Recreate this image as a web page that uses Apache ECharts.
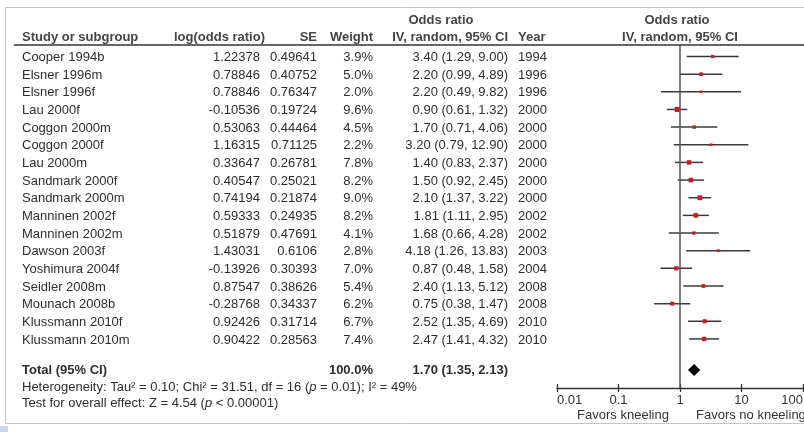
<!DOCTYPE html>
<html>
<head>
<meta charset="utf-8">
<script src="https://cdn.jsdelivr.net/npm/echarts@6/dist/echarts.min.js"></script>
<style>
html,body{margin:0;padding:0;background:#fff;}
#chart{width:804px;height:432px;}
</style>
</head>
<body>
<div id="chart"></div>
<script>
const studies = ["Cooper 1994b","Elsner 1996m","Elsner 1996f","Lau 2000f","Coggon 2000m","Coggon 2000f","Lau 2000m","Sandmark 2000f","Sandmark 2000m","Manninen 2002f","Manninen 2002m","Dawson 2003f","Yoshimura 2004f","Seidler 2008m","Mounach 2008b","Klussmann 2010f","Klussmann 2010m"];
const logOddsRatio = ["1.22378","0.78846","0.78846","-0.10536","0.53063","1.16315","0.33647","0.40547","0.74194","0.59333","0.51879","1.43031","-0.13926","0.87547","-0.28768","0.92426","0.90422"];
const stdErr = ["0.49641","0.40752","0.76347","0.19724","0.44464","0.71125","0.26781","0.25021","0.21874","0.24935","0.47691","0.6106","0.30393","0.38626","0.34337","0.31714","0.28563"];
const weight = [3.9,5.0,2.0,9.6,4.5,2.2,7.8,8.2,9.0,8.2,4.1,2.8,7.0,5.4,6.2,6.7,7.4];
const oddsRatio = [3.40,2.20,2.20,0.90,1.70,3.20,1.40,1.50,2.10,1.81,1.68,4.18,0.87,2.40,0.75,2.52,2.47];
const ciLower = [1.29,0.99,0.49,0.61,0.71,0.79,0.83,0.92,1.37,1.11,0.66,1.26,0.48,1.13,0.38,1.35,1.41];
const ciUpper = [9.00,4.89,9.82,1.32,4.06,12.90,2.37,2.45,3.22,2.95,4.28,13.83,1.58,5.12,1.47,4.69,4.32];
const years = [1994,1996,1996,2000,2000,2000,2000,2000,2000,2002,2002,2003,2004,2008,2008,2010,2010];
const totalOR = [1.70, 1.35, 2.13];
const totalWeight = "100.0%";
const xTickLabels = ["0.01","0.1","1","10","100"];

const TOTAL_ROW = 17.76;
const FONT = '"Liberation Sans", Arial, sans-serif';
const TXT = '#2e2e2e';

const chart = echarts.init(document.getElementById('chart'), null, {renderer:'canvas'});

const studyData = studies.map((s,i)=>[oddsRatio[i], ciLower[i], ciUpper[i], i, weight[i]]);

const xAxisBase = {
  type:'log', logBase:10, min:0.01, max:100, gridIndex:0, position:'bottom',
  splitLine:{show:false}, minorTick:{show:false}
};

const option = {
  animation:false,
  backgroundColor:'#fff',
  grid:{left:557, right:1, top:45, bottom:44, containLabel:false, outerBoundsMode:'none'},
  xAxis:[
    Object.assign({}, xAxisBase, {
      axisLine:{show:true, onZero:false, lineStyle:{color:'#333', width:1.3}},
      axisTick:{show:true, inside:false, length:4, lineStyle:{color:'#333', width:1.3}},
      axisLabel:{show:true, color:'#333', fontFamily:FONT, fontSize:13, margin:6, hideOverlap:false,
        alignMinLabel:'left', alignMaxLabel:'right',
        formatter:function(v){ const k = Math.round(Math.log10(v)) + 2; return xTickLabels[k] !== undefined ? xTickLabels[k] : ''; }}
    }),
    Object.assign({}, xAxisBase, {
      axisLine:{show:false, onZero:false},
      axisTick:{show:true, inside:true, length:4, lineStyle:{color:'#333', width:1.3}},
      axisLabel:{show:false}
    })
  ],
  yAxis:{type:'value', inverse:true, min:-0.652, max:18.78, show:false},
  series:[
    {
      type:'custom', name:'studies', xAxisIndex:0, yAxisIndex:0,
      data: studyData,
      encode:{x:[0,1,2], y:3},
      clip:false,
      renderItem:function(params, api){
        const y = api.value(3);
        const p1 = api.coord([api.value(1), y]);
        const p2 = api.coord([api.value(2), y]);
        const pc = api.coord([api.value(0), y]);
        const s = 2 + api.value(4)*0.32;
        return {type:'group', children:[
          {type:'line', shape:{x1:p1[0], y1:p1[1], x2:p2[0], y2:p2[1]}, style:{stroke:'#3a3a3a', lineWidth:1.5}},
          {type:'rect', shape:{x:pc[0]-s/2, y:pc[1]-s/2, width:s, height:s}, style:{fill:'#cc1a2a'}}
        ]};
      },
      markLine:{
        silent:true, symbol:['none','none'], label:{show:false},
        lineStyle:{color:'#555', width:1.5, type:'solid'},
        data:[{xAxis:1}]
      }
    },
    {
      type:'custom', name:'total', xAxisIndex:0, yAxisIndex:0,
      data:[[totalOR[0], totalOR[1], totalOR[2], TOTAL_ROW]],
      encode:{x:[0,1,2], y:3},
      renderItem:function(params, api){
        const y = api.value(3);
        const pl = api.coord([api.value(1), y]);
        const pr = api.coord([api.value(2), y]);
        const pc = api.coord([api.value(0), y]);
        const h = 6;
        return {type:'polygon', shape:{points:[[pl[0],pl[1]],[pc[0],pc[1]-h],[pr[0],pr[1]],[pc[0],pc[1]+h]]}, style:{fill:'#000'}};
      }
    }
  ]
};
chart.setOption(option);

function yPx(v){ return chart.convertToPixel({yAxisIndex:0}, v); }
function txt(text, x, y, align, opts){
  opts = opts || {};
  return {type:'text', x:x, y:y, silent:true, z:10,
    style:{text:text, font:(opts.bold?'bold ':'') + '13px ' + FONT, fill:opts.color||TXT, align:align, verticalAlign:'middle'}};
}

const g = [];
// frame
g.push({type:'rect', shape:{x:5.5, y:7.5, width:820, height:416}, style:{fill:'none', stroke:'#c4c4c4', lineWidth:1}, silent:true});
g.push({type:'rect', shape:{x:0, y:426, width:8, height:6}, style:{fill:'#c8d8ec'}, silent:true});
// header underline
g.push({type:'line', shape:{x1:14, y1:45, x2:804, y2:45}, style:{stroke:'#333', lineWidth:1.5}, silent:true});
// headers
g.push(txt('Odds ratio', 441, 20, 'center', {bold:true, color:'#444'}));
g.push(txt('Odds ratio', 677, 20, 'center', {bold:true, color:'#444'}));
g.push(txt('Study or subgroup', 22, 37, 'left', {bold:true, color:'#444'}));
g.push(txt('log(odds ratio)', 265, 37, 'right', {bold:true, color:'#444'}));
g.push(txt('SE', 317, 37, 'right', {bold:true, color:'#444'}));
g.push(txt('Weight', 373, 37, 'right', {bold:true, color:'#444'}));
g.push(txt('IV, random, 95% CI', 508, 37, 'right', {bold:true, color:'#444'}));
g.push(txt('Year', 518, 37, 'left', {bold:true, color:'#444'}));
g.push(txt('IV, random, 95% CI', 680, 37, 'center', {bold:true, color:'#444'}));
// rows
studies.forEach((s,i)=>{
  const y = yPx(i) + 1;
  g.push(txt(s, 22, y, 'left'));
  g.push(txt(logOddsRatio[i], 260, y, 'right'));
  g.push(txt(stdErr[i], 317, y, 'right'));
  g.push(txt(weight[i].toFixed(1) + '%', 373, y, 'right'));
  g.push(txt(oddsRatio[i].toFixed(2) + ' (' + ciLower[i].toFixed(2) + ', ' + ciUpper[i].toFixed(2) + ')', 508, y, 'right'));
  g.push(txt(String(years[i]), 518, y, 'left'));
});
// total
const yt = yPx(TOTAL_ROW);
g.push(txt('Total (95% CI)', 22, yt, 'left', {bold:true}));
g.push(txt(totalWeight, 373, yt, 'right', {bold:true}));
g.push(txt(totalOR[0].toFixed(2) + ' (' + totalOR[1].toFixed(2) + ', ' + totalOR[2].toFixed(2) + ')', 508, yt, 'right', {bold:true}));
// heterogeneity
const rich = {a:{font:'13px ' + FONT, fill:TXT}, i:{font:'italic 13px ' + FONT, fill:TXT}};
g.push({type:'text', x:22, y:yt+17, silent:true, style:{text:'{a|Heterogeneity: Tau² = 0.10; Chi² = 31.51, df = 16 (}{i|p}{a| = 0.01); I² = 49%}', rich:rich, verticalAlign:'middle', align:'left'}});
g.push({type:'text', x:22, y:yt+33, silent:true, style:{text:'{a|Test for overall effect: Z = 4.54 (}{i|p}{a| < 0.00001)}', rich:rich, verticalAlign:'middle', align:'left'}});
// favors labels
g.push(txt('Favors kneeling', 623, 415, 'center', {color:'#333'}));
g.push(txt('Favors no kneeling', 696, 415, 'left', {color:'#333'}));

chart.setOption({graphic:g});
</script>
</body>
</html>
